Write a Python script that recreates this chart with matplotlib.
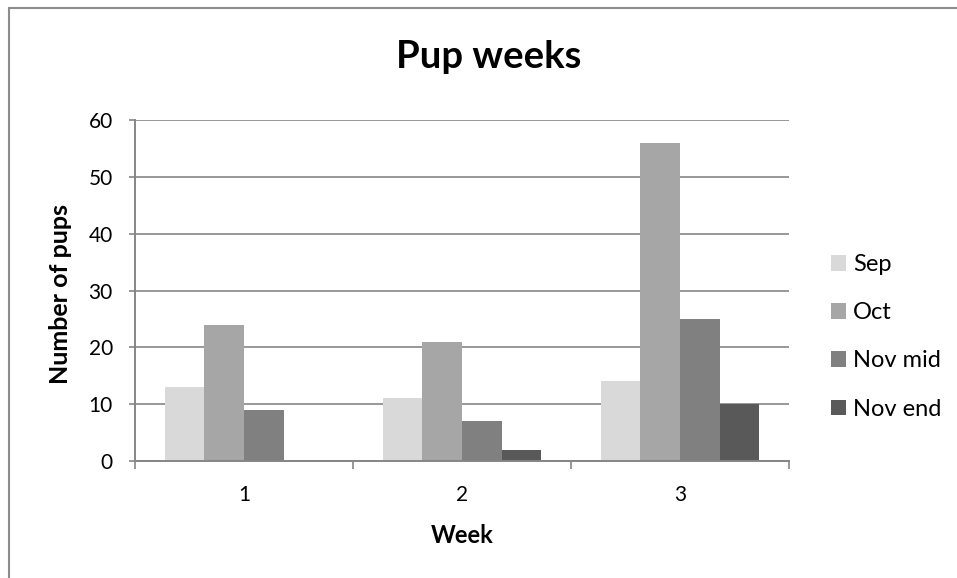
import matplotlib.pyplot as plt
import matplotlib.patches as mpatches
import numpy as np

plt.rcParams['font.family'] = ['Lato', 'DejaVu Sans']

weeks = ['1', '2', '3']
series = ['Sep', 'Oct', 'Nov mid', 'Nov end']
sep = [13, 11, 14]
oct_ = [24, 21, 56]
nov_mid = [9, 7, 25]
nov_end = [0, 2, 10]
colors = ['#d9d9d9', '#a6a6a6', '#808080', '#595959']

fig = plt.figure(figsize=(9.57, 5.78), dpi=100)
ax = fig.add_axes([0.1411, 0.2024, 0.6834, 0.59])

x = np.arange(len(weeks))
w = 1 / 5.5
for i, (vals, name) in enumerate(zip([sep, oct_, nov_mid, nov_end], series)):
    ax.bar(x - 2 * w + (i + 0.5) * w, vals, width=w, color=colors[i], label=name, zorder=3)

ax.set_xlim(-0.5, 2.5)
ax.set_ylim(0, 60)
ax.set_yticks(range(0, 61, 10))
ax.set_xticks(x)
ax.set_xticklabels(weeks)
ax.set_xticks([-0.5, 0.5, 1.5, 2.5], minor=True)
ax.tick_params(axis='x', which='major', length=0, labelsize=15, pad=17)
ax.tick_params(axis='x', which='minor', length=6, color='#868686', width=1.2)
ax.tick_params(axis='y', length=4, color='#868686', width=1.2, labelsize=15, pad=12)
ax.grid(axis='y', color='#868686', linewidth=1.2, zorder=0)
for s in ['top', 'right']:
    ax.spines[s].set_visible(False)
for s in ['left', 'bottom']:
    ax.spines[s].set_color('#868686')
    ax.spines[s].set_linewidth(1.4)
ax.spines['bottom'].set_zorder(4)

fig.text(0.511, 1 - 68 / 578, 'Pup weeks', fontsize=27.5, fontweight='bold',
         ha='center', va='baseline')
ax.set_xlabel('Week', fontsize=17, fontweight='bold')
ax.xaxis.label.set_va('center')
ax.xaxis.set_label_coords(0.5, -0.217)
ax.set_ylabel('Number of pups', fontsize=18, fontweight='bold')
ax.yaxis.label.set_va('center')
ax.yaxis.set_label_coords(-0.1147, 0.49)

ax.legend(loc='center left', bbox_to_anchor=(1.064, 0.364), frameon=False,
          fontsize=17, handlelength=0.63, handleheight=0.63, borderpad=0,
          borderaxespad=0, handletextpad=0.3, labelspacing=1.15)

fig.patches.append(mpatches.Rectangle((8.5 / 957, -0.1), 1.2, 1.1 - 8.5 / 578,
                                      transform=fig.transFigure, fill=False,
                                      edgecolor='#8c8c8c', linewidth=1.5))

fig.savefig('out.png', dpi=100)
